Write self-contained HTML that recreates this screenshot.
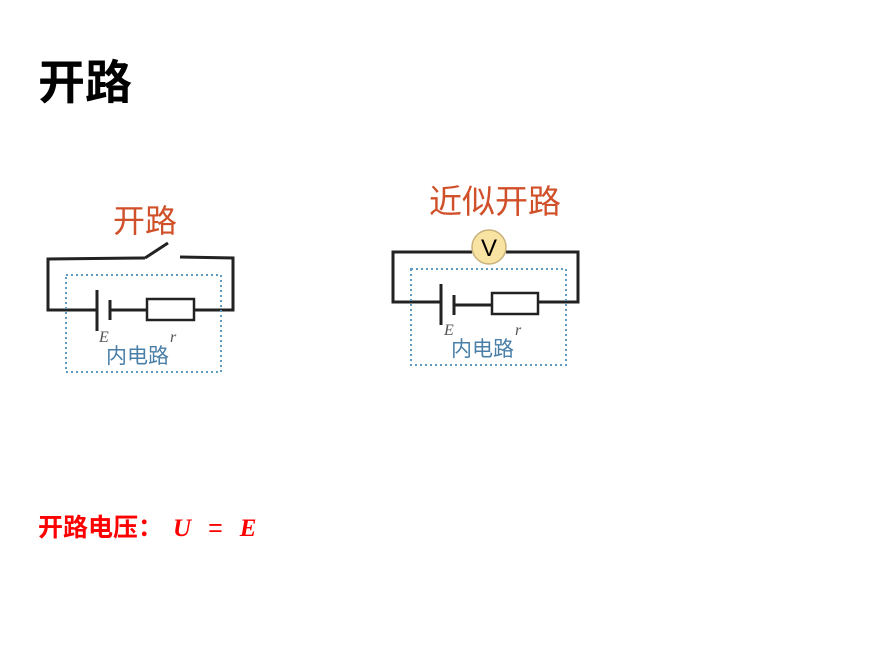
<!DOCTYPE html>
<html><head><meta charset="utf-8"><style>
body{margin:0;width:892px;height:667px;background:#fff;overflow:hidden;position:relative;font-family:"Liberation Sans","Noto Sans CJK SC",sans-serif}
.t{position:absolute;white-space:nowrap}
</style></head><body>
<div class="t" style="left:38px;top:44px;font-size:47px;font-weight:bold;color:#000">开路</div>
<div class="t" style="left:38px;top:508px;font-size:25px;font-weight:bold;color:#f00">开路电压：<span style="font-family:'Liberation Serif',serif;font-style:italic;margin-left:10px">U</span><span style="margin:0 17px;font-weight:normal">=</span><span style="font-family:'Liberation Serif',serif;font-style:italic">E</span></div>
<svg width="892" height="667" style="position:absolute;left:0;top:0">
<g font-family="Liberation Sans,Noto Sans CJK SC,sans-serif">
<text x="145" y="232" font-size="32" fill="#d0502a" text-anchor="middle">开路</text>
<text x="495" y="213" font-size="33" fill="#d0502a" text-anchor="middle">近似开路</text>
</g>
<g stroke="#222" stroke-width="3" fill="none">
<polyline points="145,258 48,259 48,310 97,310"/>
<line x1="145" y1="258" x2="168" y2="243"/>
<polyline points="180,257 233,258 233,310 195,310"/>
<line x1="97" y1="290" x2="97" y2="331"/>
<line x1="110" y1="300" x2="110" y2="320"/>
<line x1="110" y1="310" x2="146" y2="310"/>
<rect x="147" y="299" width="47" height="21" stroke-width="2.5"/>
<polyline points="472,252 393,252 393,302 441,302"/>
<polyline points="506,252 578,252 578,302 538,302"/>
<line x1="441" y1="284" x2="441" y2="325"/>
<line x1="454" y1="295" x2="454" y2="315"/>
<line x1="454" y1="305" x2="492" y2="305"/>
<rect x="492" y="293" width="46" height="21" stroke-width="2.5"/>
</g>
<circle cx="489" cy="247" r="17" fill="#f8e3a3" stroke="#c9b27a" stroke-width="1.5"/>
<text x="489" y="256" font-size="24" text-anchor="middle" font-family="Liberation Sans,sans-serif" fill="#000">V</text>
<rect x="66" y="275" width="155" height="97" fill="none" stroke="#5b9bc4" stroke-width="2" stroke-dasharray="2,3"/>
<rect x="411" y="269" width="155" height="96" fill="none" stroke="#5b9bc4" stroke-width="2" stroke-dasharray="2,3"/>
<g font-family="Liberation Serif,serif" font-style="italic" fill="#555" font-size="16">
<text x="99" y="342">E</text><text x="170" y="342">r</text>
<text x="444" y="335">E</text><text x="515" y="335">r</text>
</g>
<g font-family="Liberation Sans,Noto Sans CJK SC,sans-serif" fill="#4a7fa8" font-size="21">
<text x="106" y="363">内电路</text>
<text x="451" y="356">内电路</text>
</g>
</svg>
</body></html>
